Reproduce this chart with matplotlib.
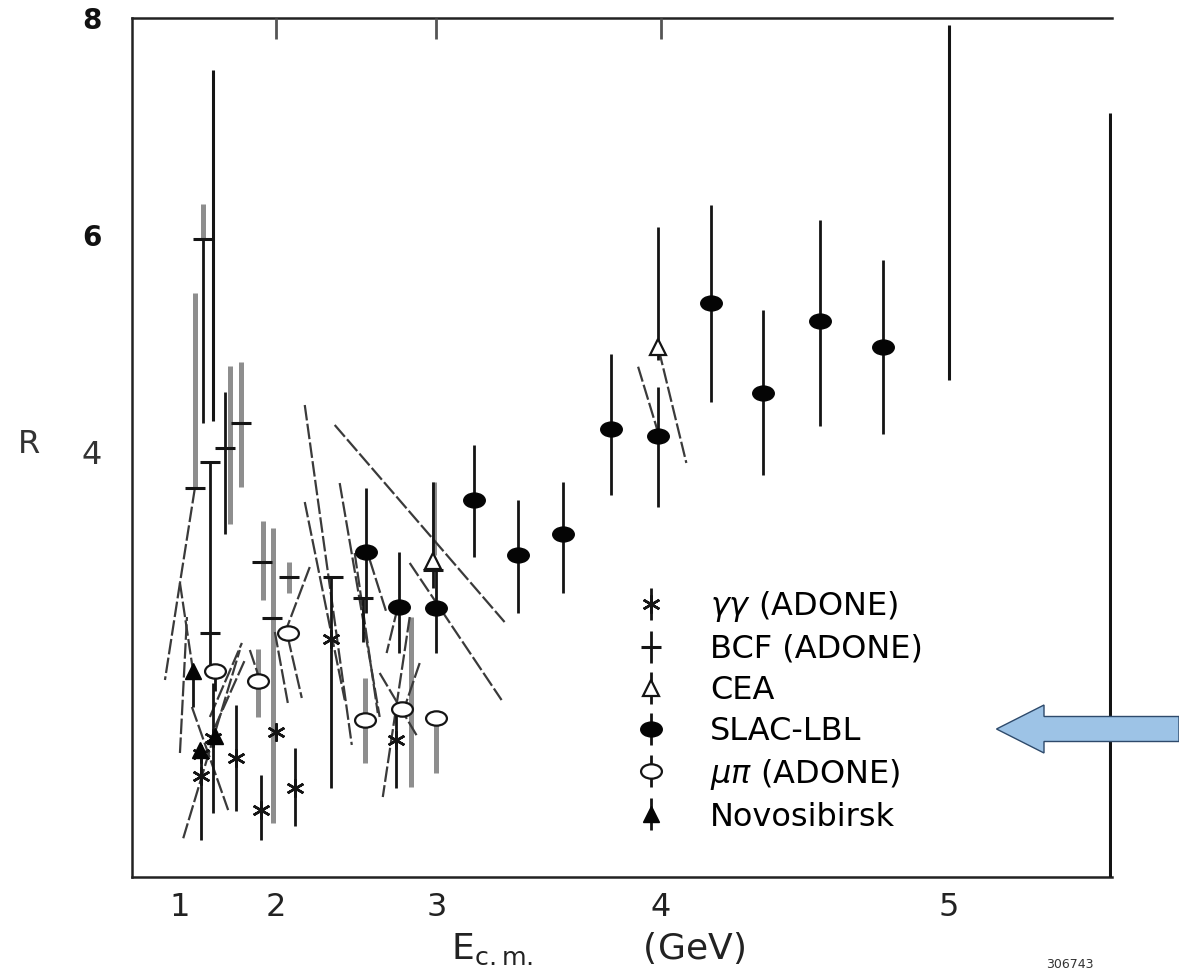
import numpy as np
import matplotlib
matplotlib.use("Agg")
import matplotlib.pyplot as plt
from matplotlib.path import Path
from matplotlib.transforms import Affine2D
from matplotlib.patches import FancyArrow

plt.rcParams['font.family'] = ['DejaVu Sans']
plt.rcParams['mathtext.fontset'] = 'dejavusans'

# values: E_cm (GeV), R, bottom and top of the error bar

# SLAC-LBL
slac_E  = [2.61, 2.80, 3.00, 3.19, 3.40, 3.60, 3.80, 3.99, 4.19, 4.38, 4.58, 4.79]
slac_R  = [3.08, 2.57, 2.56, 3.56, 3.05, 3.24, 4.21, 4.15, 5.37, 4.54, 5.21, 4.97]
slac_lo = [2.52, 2.15, 2.15, 3.03, 2.52, 2.70, 3.60, 3.49, 4.46, 3.79, 4.24, 4.17]
slac_hi = [3.67, 3.08, 3.00, 4.06, 3.56, 3.72, 4.90, 4.60, 6.28, 5.31, 6.14, 5.77]

# bars whose points got lost in the scan
bare_E  = [1.42, 5.00, 5.48]
bare_lo = [4.29, 4.66, 0.00]
bare_hi = [7.52, 7.94, 7.12]

# CEA
cea_E  = [3.99, 2.985]
cea_R  = [4.97, 3.00]
cea_lo = [4.85, 2.75]
cea_hi = [6.07, 3.72]

# BCF (ADONE)
bcf_E  = [1.31, 1.21, 1.39, 1.39, 1.55, 1.70, 1.89, 1.97, 2.10, 2.40, 2.59, 2.98]
bcf_R  = [5.96, 3.67, 3.91, 2.33, 4.04, 4.27, 2.99, 2.47, 2.85, 2.85, 2.65, 2.91]
bcf_lo = [4.27, 3.67, 3.91, 1.99, 3.24, 4.27, 2.99, 2.47, 2.85, 2.85, 2.25, 2.91]
bcf_hi = [5.96, 3.67, 3.91, 3.91, 4.55, 4.27, 2.99, 2.47, 2.85, 2.85, 2.65, 2.91]

# gamma gamma (ADONE)
gg_E  = [1.29, 1.42, 1.29, 1.66, 1.88, 2.00, 2.14, 2.39, 2.78]
gg_R  = [1.22, 1.36, 1.01, 1.18, 0.70, 1.42, 0.90, 2.28, 1.35]
gg_lo = [0.42, 0.67, 1.01, 0.69, 0.42, 1.42, 0.55, 0.90, 0.90]
gg_hi = [1.25, 1.87, 1.01, 1.67, 1.02, 1.42, 1.27, 2.85, 1.64]

# mu pi (ADONE)
mupi_E  = [1.445, 1.855, 2.09, 2.60, 2.815, 3.00]
mupi_R  = [1.98, 1.89, 2.33, 1.53, 1.63, 1.55]
mupi_lo = [1.80, 1.89, 2.33, 1.53, 1.63, 1.55]
mupi_hi = [1.98, 1.89, 2.33, 1.53, 1.63, 1.55]

# Novosibirsk
nov_E  = [1.19, 1.27, 1.445]
nov_R  = [1.98, 1.25, 1.38]
nov_lo = [1.65, 1.25, 1.38]
nov_hi = [1.98, 1.25, 1.38]

# faded (grey) bars of the scan
grey_E  = [1.21, 1.31, 1.60, 1.70, 1.855, 1.893, 1.974, 2.10, 2.60, 2.866, 2.986, 3.00]
grey_lo = [3.67, 5.96, 3.34, 3.68, 1.56, 2.64, 0.58, 2.70, 1.13, 0.91, 3.05, 1.04]
grey_hi = [5.47, 6.29, 4.79, 4.83, 2.18, 3.36, 3.30, 2.99, 1.92, 2.48, 3.72, 1.50]

# slanted strokes of the scan (start E, start R, end E, end R)
seg_E0 = [1.210, 0.999, 0.999, 1.049, 1.390, 1.445, 1.171, 0.999, 1.783, 1.990, 2.089,
          2.247, 2.212, 2.212, 2.446, 2.631, 2.540, 2.689, 2.858, 2.912, 2.792, 2.414,
          2.858, 3.911, 3.993]
seg_R0 = [3.668, 2.793, 2.793, 0.440, 1.558, 1.465, 1.650, 1.226, 2.175, 2.341, 2.295,
          2.940, 4.433, 3.539, 3.714, 3.005, 3.069, 1.963, 2.479, 2.055, 2.571, 4.249,
          2.977, 4.786, 4.940]
seg_E1 = [0.999, 0.728, 1.184, 1.693, 1.712, 1.739, 1.582, 1.103, 1.869, 2.089, 2.191,
          2.067, 2.522, 2.478, 2.689, 2.729, 2.678, 2.901, 2.707, 2.819, 2.729, 3.336,
          3.322, 3.993, 4.099]
seg_R1 = [2.793, 1.899, 1.991, 2.175, 2.240, 2.083, 0.700, 2.479, 1.899, 1.687, 1.733,
          2.332, 1.300, 1.714, 1.558, 2.516, 1.594, 1.373, 0.820, 1.594, 2.147, 2.433,
          1.714, 4.157, 3.899]

x_ticks = [1, 2, 3, 4, 5]
top_ticks = [2, 3, 4]
y_ticks = [4, 6, 8]

labels = [r'$\gamma\gamma$ (ADONE)', 'BCF (ADONE)', 'CEA', 'SLAC-LBL',
          r'$\mu\pi$ (ADONE)', 'Novosibirsk']


def yerr(R, lo, hi):
    R = np.asarray(R)
    return np.vstack([R - np.asarray(lo), np.asarray(hi) - R])


# axis is linear in s = E^2
def fwd(e):
    e = np.asarray(e, dtype=float)
    return np.sign(e) * e * e


def inv(s):
    s = np.asarray(s, dtype=float)
    return np.sign(s) * np.sqrt(np.abs(s))


ink = '#141414'
fig = plt.figure(figsize=(11.79, 9.77), dpi=100)
ax = fig.add_axes([132 / 1179, 1 - 877 / 977, 980 / 1179, 859 / 977])
ax.set_xscale('function', functions=(fwd, inv))
ax.set_xlim(-0.706, 5.485)
ax.set_ylim(0.083, 8.0)

ax.vlines(grey_E, grey_lo, grey_hi, colors='#8e8e8e', linewidth=3.6, zorder=1.5)
ax.plot(np.vstack([seg_E0, seg_E1]), np.vstack([seg_R0, seg_R1]),
        color='#3a3a3a', linewidth=1.6, linestyle=(0, (7, 1.5)), zorder=2)
ax.vlines(bare_E, bare_lo, bare_hi, colors=ink, linewidth=2.2, zorder=3)

ellipse = Path.unit_circle().transformed(Affine2D().scale(1.45, 1.0))
common = dict(linestyle='none', ecolor=ink, elinewidth=2.0, capsize=0)

h_gg = ax.errorbar(gg_E, gg_R, yerr=yerr(gg_R, gg_lo, gg_hi), marker=(6, 2, 0),
                   ms=13, mew=1.8, color=ink, zorder=4, **common)
h_bcf = ax.errorbar(bcf_E, bcf_R, yerr=yerr(bcf_R, bcf_lo, bcf_hi), marker='_',
                    ms=14, mew=2.2, color=ink, zorder=4, **common)
h_cea = ax.errorbar(cea_E, cea_R, yerr=yerr(cea_R, cea_lo, cea_hi), marker='^',
                    ms=11, mfc='white', mec=ink, mew=1.6, color=ink, zorder=5, **common)
h_slac = ax.errorbar(slac_E, slac_R, yerr=yerr(slac_R, slac_lo, slac_hi), marker=ellipse,
                     ms=15.5, color='#050505', zorder=5, **common)
h_mupi = ax.errorbar(mupi_E, mupi_R, yerr=yerr(mupi_R, mupi_lo, mupi_hi), marker=ellipse,
                     ms=15, mfc='white', mec=ink, mew=1.6, color=ink, zorder=5, **common)
h_nov = ax.errorbar(nov_E, nov_R, yerr=yerr(nov_R, nov_lo, nov_hi), marker='^',
                    ms=12, color='#050505', zorder=4, **common)

# frame
ax.spines['right'].set_visible(False)
for side in ('left', 'top', 'bottom'):
    ax.spines[side].set_linewidth(1.8)
    ax.spines[side].set_color('#222222')

ax.set_xticks(x_ticks, labels=[str(t) for t in x_ticks])
ax.tick_params(axis='x', length=0, pad=11, labelsize=23, labelcolor='#222222')
ax.set_yticks(y_ticks, labels=[str(t) for t in y_ticks])
ax.tick_params(axis='y', length=0, pad=22, labelsize=20, labelcolor='#111111')
for lab in ax.get_yticklabels():
    if lab.get_text() == '4':
        lab.set_fontsize(23)
        lab.set_color('#333333')
    else:
        lab.set_fontweight('bold')

ax.set_ylabel('R', rotation=0, fontsize=23, color='#333333', va='center', ha='center')
ax.yaxis.set_label_coords(-0.105, 0.503)
ax.set_xlabel(r'E$_{\rm c.m.}$         (GeV)', fontsize=26, color='#222222')
ax.xaxis.set_label_coords(0.4755, -0.062)

# ticks hanging from the top frame
top = ax.twiny()
top.set_xscale('function', functions=(fwd, inv))
top.set_xlim(ax.get_xlim())
top.set_xticks(top_ticks, labels=[])
top.tick_params(axis='x', direction='in', length=15, width=2, color='#555555')
for sp in top.spines.values():
    sp.set_visible(False)

ax.legend([h_gg, h_bcf, h_cea, h_slac, h_mupi, h_nov], labels,
          loc='upper left', bbox_to_anchor=(631.8 / 1179, 1 - 589 / 977),
          bbox_transform=fig.transFigure, frameon=False, fontsize=23,
          handlelength=1.2, handletextpad=1.25, labelspacing=0.31,
          borderpad=0, borderaxespad=0)

fig.text(1070 / 1179, 1 - 964 / 977, '306743', fontsize=9, ha='center', va='center',
         color='#333333')

arrow = FancyArrow(1.0, 1 - 729 / 977, -(1179 - 996.5) / 1179, 0,
                   width=25 / 977, head_width=48 / 977, head_length=47.5 / 1179,
                   length_includes_head=True, transform=fig.transFigure,
                   facecolor='#9dc3e6', edgecolor='#2e4a6b', linewidth=1.0)
fig.add_artist(arrow)

fig.savefig('out.png', dpi=100)
